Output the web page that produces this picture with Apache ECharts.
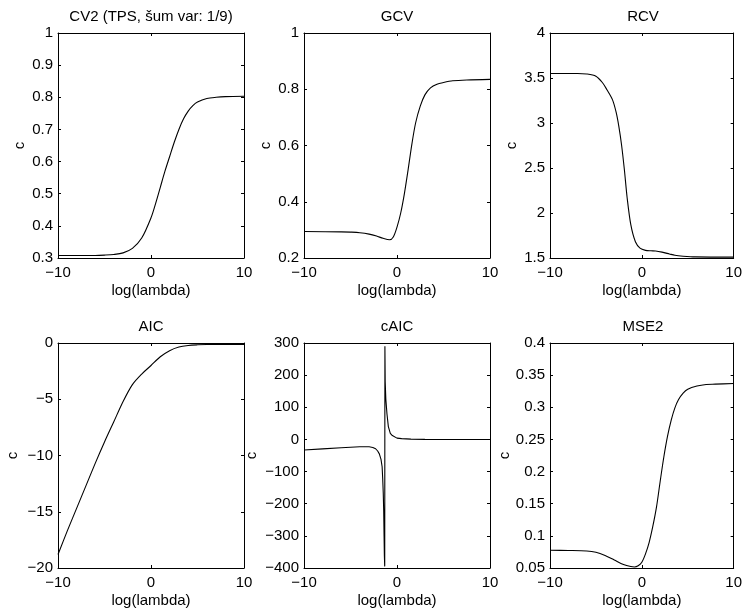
<!DOCTYPE html>
<html><head><meta charset="utf-8">
<script src="https://cdn.jsdelivr.net/npm/echarts@6/dist/echarts.min.js"></script>
<style>html,body{margin:0;padding:0;background:#fff}#c{width:745px;height:612px}</style>
</head><body><div id="c"></div>
<script>
// ---- data ----
const panelTitles = ['CV2 (TPS, šum var: 1/9)', 'GCV', 'RCV', 'AIC', 'cAIC', 'MSE2'];
const xLabel = 'log(lambda)';
const yLabel = 'c';
const xTicks = [-10, 0, 10];

const cv2YTicks = [0.3, 0.4, 0.5, 0.6, 0.7, 0.8, 0.9, 1];
const gcvYTicks = [0.2, 0.4, 0.6, 0.8, 1];
const rcvYTicks = [1.5, 2, 2.5, 3, 3.5, 4];
const aicYTicks = [-20, -15, -10, -5, 0];
const caicYTicks = [-400, -300, -200, -100, 0, 100, 200, 300];
const mse2YTicks = [0.05, 0.1, 0.15, 0.2, 0.25, 0.3, 0.35, 0.4];

const cv2X = [-10, -8, -6, -5, -4, -3, -2, -1, 0, 0.5, 1, 1.5, 2, 2.5, 3, 3.5, 4, 4.5, 5, 6, 7, 8, 10];
const cv2Y = [0.308, 0.308, 0.308, 0.309, 0.311, 0.316, 0.33, 0.362, 0.425, 0.47, 0.52, 0.57, 0.615, 0.66, 0.70, 0.733, 0.757, 0.774, 0.785, 0.796, 0.800, 0.802, 0.803];

const gcvX = [-10, -6, -5, -4, -3, -2.2, -1.5, -0.8, -0.4, 0, 0.4, 0.8, 1.2, 1.6, 2, 2.5, 3, 3.6, 4.3, 5, 6, 7.5, 10];
const gcvY = [0.294, 0.293, 0.292, 0.29, 0.285, 0.278, 0.27, 0.265, 0.275, 0.31, 0.36, 0.43, 0.515, 0.605, 0.68, 0.74, 0.78, 0.805, 0.818, 0.824, 0.83, 0.833, 0.835];

const rcvX = [-10, -7, -6, -5, -4.3, -3.8, -3.2, -2.8, -2.5, -2.2, -1.9, -1.6, -1.2, -0.7, -0.2, 0.4, 1, 1.5, 2.2, 3, 3.6, 4.5, 5.8, 10];
const rcvY = [3.55, 3.55, 3.545, 3.52, 3.45, 3.37, 3.26, 3.12, 2.96, 2.75, 2.48, 2.17, 1.87, 1.68, 1.61, 1.585, 1.58, 1.578, 1.565, 1.545, 1.53, 1.52, 1.512, 1.51];

const aicX = [-10, -9, -8, -7, -6, -5, -4, -3, -2, -1, 0, 1, 2, 3, 4, 5, 6, 8, 10];
const aicY = [-18.8, -16.7, -14.7, -12.7, -10.7, -8.8, -7.0, -5.2, -3.7, -2.76, -2.0, -1.22, -0.68, -0.36, -0.22, -0.16, -0.13, -0.12, -0.12];

const caicX = [-10, -8, -6, -4, -3, -2.6, -2.3, -2.08, -1.9, -1.72, -1.6, -1.54, -1.48, -1.43, -1.39, -1.36, -1.32, -1.30, -1.27, -1.2, -1.08, -0.93, -0.72, -0.5, -0.29, 0, 0.5, 1.5, 3, 10];
const caicY = [-33, -29.5, -26, -23, -23, -25, -29, -36, -45, -62, -85, -120, -165, -220, -300, -360, -395, 290, 180, 125, 80, 40, 19, 12, 7, 4, 2.5, 1, 0.3, 0];

const mse2X = [-10, -8, -6, -5, -4, -3, -2, -1.2, -0.8, -0.4, 0, 0.4, 0.8, 1.2, 1.6, 2, 2.4, 2.8, 3.2, 3.6, 4, 4.5, 5, 6, 7, 8, 10];
const mse2Y = [0.0775, 0.0772, 0.0765, 0.0745, 0.0695, 0.0625, 0.0555, 0.0522, 0.0516, 0.0535, 0.059, 0.072, 0.09, 0.115, 0.145, 0.185, 0.223, 0.255, 0.28, 0.299, 0.312, 0.322, 0.328, 0.333, 0.3355, 0.336, 0.337];

const panelX = [cv2X, gcvX, rcvX, aicX, caicX, mse2X];
const panelY = [cv2Y, gcvY, rcvY, aicY, caicY, mse2Y];
const panelYTicks = [cv2YTicks, gcvYTicks, rcvYTicks, aicYTicks, caicYTicks, mse2YTicks];

// ---- layout ----
const colLeft = [58, 304, 550];
const rowTop = [33, 343];
const plotW = 186, plotH = 225;
const yNameGap = [31, 31, 31, 38, 45, 31];
const smoothAmt = [0.3, 0.3, 0.3, 0.3, 0, 0.3];
const FONT = 'Liberation Sans, Arial, Helvetica, sans-serif';
const FS = 15;

function fmt(v) {
  const s = String(Math.round(v * 1000) / 1000);
  return s.replace('-', '\u2212');
}

const grids = [], xAxes = [], yAxes = [], series = [], titles = [];
for (let i = 0; i < 6; i++) {
  const r = Math.floor(i / 3), c = i % 3;
  const left = colLeft[c], top = rowTop[r];
  grids.push({ left: left, top: top, width: plotW, height: plotH, containLabel: false });
  const yt = panelYTicks[i];
  const yMin = yt[0], yMax = yt[yt.length - 1], yInt = yt[1] - yt[0];
  const xMin = xTicks[0], xMax = xTicks[xTicks.length - 1], xInt = xTicks[1] - xTicks[0];
  const line = { show: true, onZero: false, lineStyle: { color: '#000', width: 1 } };
  const tick = { show: true, inside: true, length: 3, lineStyle: { color: '#000', width: 1 } };
  xAxes.push({
    type: 'value', gridIndex: i, position: 'bottom', min: xMin, max: xMax, interval: xInt,
    axisLine: line, axisTick: tick, splitLine: { show: false },
    axisLabel: { color: '#000', fontSize: FS, fontFamily: FONT, margin: 7, formatter: fmt },
    name: xLabel, nameLocation: 'middle', nameGap: 25,
    nameTextStyle: { color: '#000', fontSize: FS, fontFamily: FONT }
  });
  xAxes.push({
    type: 'value', gridIndex: i, position: 'top', min: xMin, max: xMax, interval: xInt,
    axisLine: line, axisTick: tick, splitLine: { show: false }, axisLabel: { show: false }
  });
  yAxes.push({
    type: 'value', gridIndex: i, position: 'left', min: yMin, max: yMax, interval: yInt,
    axisLine: line, axisTick: tick, splitLine: { show: false },
    axisLabel: { color: '#000', fontSize: FS, fontFamily: FONT, margin: 5, formatter: fmt, showMinLabel: true, showMaxLabel: true },
    name: yLabel, nameLocation: 'middle', nameGap: yNameGap[i],
    nameTextStyle: { color: '#000', fontSize: FS, fontFamily: FONT }
  });
  yAxes.push({
    type: 'value', gridIndex: i, position: 'right', min: yMin, max: yMax, interval: yInt,
    axisLine: line, axisTick: tick, splitLine: { show: false }, axisLabel: { show: false }
  });
  const xs = panelX[i], ys = panelY[i];
  series.push({
    type: 'line', xAxisIndex: 2 * i, yAxisIndex: 2 * i,
    data: xs.map((x, k) => [x, ys[k]]),
    showSymbol: false, symbol: 'none',
    smooth: smoothAmt[i] > 0 ? smoothAmt[i] : false,
    lineStyle: { color: '#000', width: 1.1 }, clip: true
  });
  titles.push({
    text: panelTitles[i], left: left + plotW / 2, top: top - 24, textAlign: 'center', padding: 0,
    textStyle: { color: '#000', fontSize: FS, fontWeight: 'normal', fontFamily: FONT }
  });
}

const chart = echarts.init(document.getElementById('c'), null, { renderer: 'canvas' });
chart.setOption({
  animation: false,
  backgroundColor: '#fff',
  textStyle: { fontFamily: FONT },
  title: titles, grid: grids, xAxis: xAxes, yAxis: yAxes, series: series
});
</script></body></html>
